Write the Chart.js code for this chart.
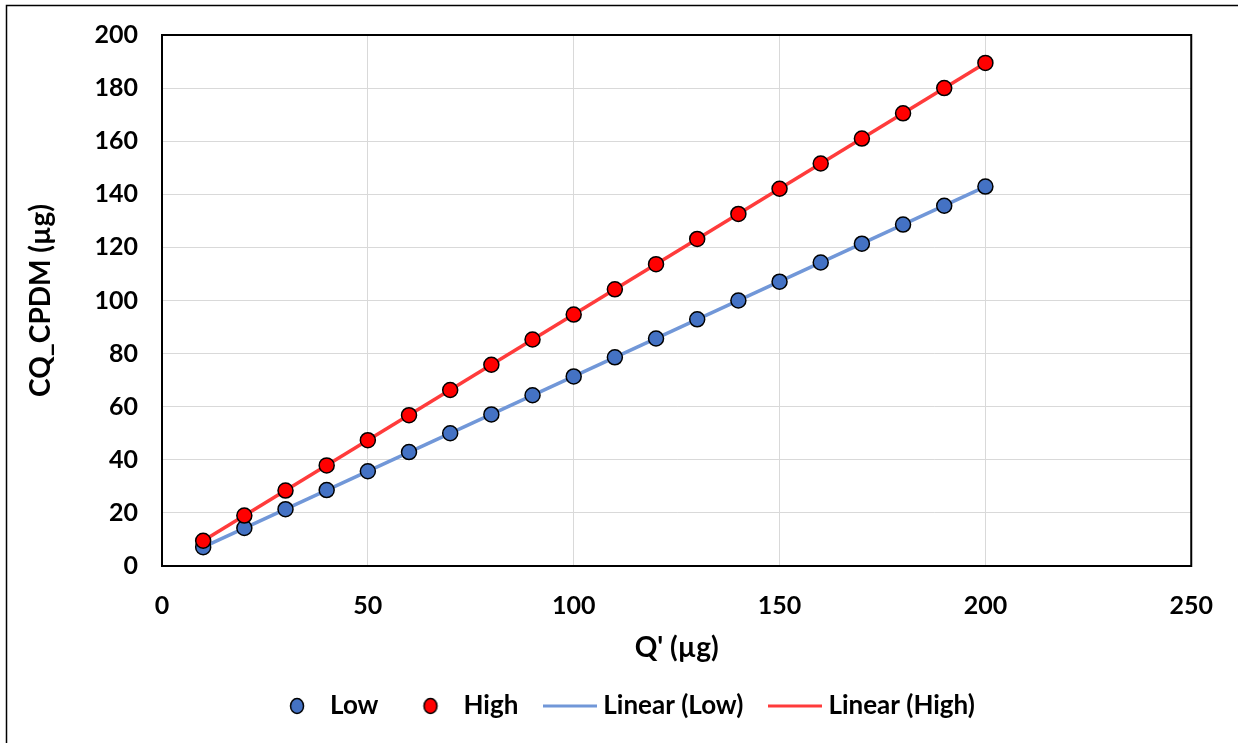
<!DOCTYPE html>
<html>
<head>
<meta charset="utf-8">
<script src="https://cdn.jsdelivr.net/npm/chart.js@4/dist/chart.umd.min.js"></script>
<style>
  html, body { margin: 0; padding: 0; background: #fff; }
  #wrap { width: 1238px; height: 743px; position: relative; }
</style>
</head>
<body>
<div id="wrap"><canvas id="chart" width="1238" height="743"></canvas></div>
<script>
// Q' (µg) values
const qValues = [10, 20, 30, 40, 50, 60, 70, 80, 90, 100, 110, 120, 130, 140, 150, 160, 170, 180, 190, 200];
// CQ_CPDM (µg)
const lowValues = [7.1, 14.3, 21.4, 28.6, 35.7, 42.9, 50, 57.1, 64.3, 71.4, 78.6, 85.7, 92.9, 100, 107.1, 114.3, 121.4, 128.6, 135.7, 142.9];
const highValues = [9.5, 19, 28.4, 37.9, 47.4, 56.8, 66.3, 75.8, 85.3, 94.7, 104.2, 113.7, 123.2, 132.6, 142.1, 151.6, 161, 170.5, 180, 189.5];
const seriesNames = ['Low', 'High', 'Linear (Low)', 'Linear (High)'];

const FONT = 'Lato, "Open Sans", sans-serif';

// least squares fit, like the spreadsheet trendline
function trendline(xs, ys) {
  const n = xs.length;
  const mx = xs.reduce((a, b) => a + b, 0) / n;
  const my = ys.reduce((a, b) => a + b, 0) / n;
  let sxy = 0, sxx = 0;
  for (let i = 0; i < n; i++) {
    sxy += (xs[i] - mx) * (ys[i] - my);
    sxx += (xs[i] - mx) * (xs[i] - mx);
  }
  const slope = sxy / sxx;
  const icpt = my - slope * mx;
  const x0 = xs[0], x1 = xs[n - 1];
  return [{ x: x0, y: icpt + slope * x0 }, { x: x1, y: icpt + slope * x1 }];
}

function toPoints(xs, ys) {
  return xs.map((x, i) => ({ x: x, y: ys[i] }));
}

// legend symbols
function circleIcon(fill) {
  const c = document.createElement('canvas');
  c.width = 18; c.height = 18;
  const g = c.getContext('2d');
  g.beginPath();
  g.ellipse(9, 9, 6.5, 7.5, 0, 0, Math.PI * 2);
  g.fillStyle = fill;
  g.fill();
  g.lineWidth = 1.5;
  g.strokeStyle = '#000';
  g.stroke();
  return c;
}
function lineIcon(color) {
  const c = document.createElement('canvas');
  c.width = 54; c.height = 4;
  const g = c.getContext('2d');
  g.fillStyle = color;
  g.fillRect(0, 0.5, 54, 3);
  return c;
}

const lowColor = '#4472C4';
const highColor = '#FF0000';
const lowLine = '#7197D8';
const highLine = '#FF3B3B';

const icons = [circleIcon(lowColor), circleIcon(highColor), lineIcon(lowLine), lineIcon(highLine)];

// frame around plot area and outer chart border, legend nudged right
const framePlugin = {
  id: 'frame',
  afterLayout(chart) {
    if (chart.legend) {
      chart.legend.left += 30;
      chart.legend.right += 30;
    }
  },
  afterDatasetsDraw(chart) {
    const { ctx, chartArea: a } = chart;
    ctx.save();
    ctx.strokeStyle = '#000';
    ctx.lineWidth = 2;
    ctx.strokeRect(a.left, a.top, a.right - a.left, a.bottom - a.top);
    ctx.restore();
  },
  afterDraw(chart) {
    const ctx = chart.ctx;
    ctx.save();
    ctx.strokeStyle = '#000';
    ctx.lineWidth = 1.5;
    ctx.beginPath();
    ctx.moveTo(6.5, 743);
    ctx.lineTo(6.5, 5.5);
    ctx.lineTo(1238, 5.5);
    ctx.stroke();
    ctx.restore();
  }
};

new Chart(document.getElementById('chart'), {
  type: 'scatter',
  data: {
    datasets: [
      {
        label: seriesNames[0],
        data: toPoints(qValues, lowValues),
        backgroundColor: lowColor,
        borderColor: '#000',
        borderWidth: 1.5,
        pointRadius: 7.5,
        order: 1
      },
      {
        label: seriesNames[1],
        data: toPoints(qValues, highValues),
        backgroundColor: highColor,
        borderColor: '#000',
        borderWidth: 1.5,
        pointRadius: 7.5,
        order: 0
      },
      {
        type: 'line',
        label: seriesNames[2],
        data: trendline(qValues, lowValues),
        borderColor: lowLine,
        borderWidth: 3.5,
        pointRadius: 0,
        fill: false,
        order: 3
      },
      {
        type: 'line',
        label: seriesNames[3],
        data: trendline(qValues, highValues),
        borderColor: highLine,
        borderWidth: 3.5,
        pointRadius: 0,
        fill: false,
        order: 2
      }
    ]
  },
  options: {
    responsive: false,
    animation: false,
    layout: { padding: { top: 35, right: 46, bottom: 14, left: 0 } },
    plugins: {
      tooltip: { enabled: false },
      legend: {
        position: 'bottom',
        labels: {
          usePointStyle: true,
          pointStyleWidth: 40,
          padding: 32,
          color: '#000',
          font: { family: FONT, size: 26, weight: 'bold' },
          generateLabels(chart) {
            return chart.data.datasets.map((ds, i) => ({
              text: ds.label,
              pointStyle: icons[i],
              fillStyle: 'transparent',
              strokeStyle: 'transparent',
              lineWidth: 0,
              fontColor: '#000',
              hidden: false,
              datasetIndex: i
            }));
          }
        }
      }
    },
    scales: {
      x: {
        type: 'linear',
        min: 0,
        max: 250,
        ticks: {
          stepSize: 50,
          padding: 25,
          color: '#000',
          font: { family: FONT, size: 25, weight: 'bold' }
        },
        grid: { color: '#d9d9d9', lineWidth: 1, drawTicks: false },
        border: { color: '#000', width: 2 },
        title: {
          display: true,
          text: "Q' (µg)",
          color: '#000',
          font: { family: FONT, size: 28, weight: 'bold' },
          padding: { top: 4, bottom: -4 }
        },
        afterFit(scale) { scale.height = 95; }
      },
      y: {
        type: 'linear',
        min: 0,
        max: 200,
        ticks: {
          stepSize: 20,
          padding: 24,
          color: '#000',
          font: { family: FONT, size: 25, weight: 'bold' }
        },
        grid: { color: '#d9d9d9', lineWidth: 1, drawTicks: false },
        border: { color: '#000', width: 2 },
        title: {
          display: true,
          text: 'CQ_CPDM (µg)',
          color: '#000',
          font: { family: FONT, size: 28, weight: 'bold' },
          padding: { top: 24, bottom: 4 }
        },
        afterFit(scale) {
          scale.width = 162;
          scale.paddingTop = 0;
          scale.paddingBottom = 0;
        }
      }
    }
  },
  plugins: [framePlugin]
});
</script>
</body>
</html>
